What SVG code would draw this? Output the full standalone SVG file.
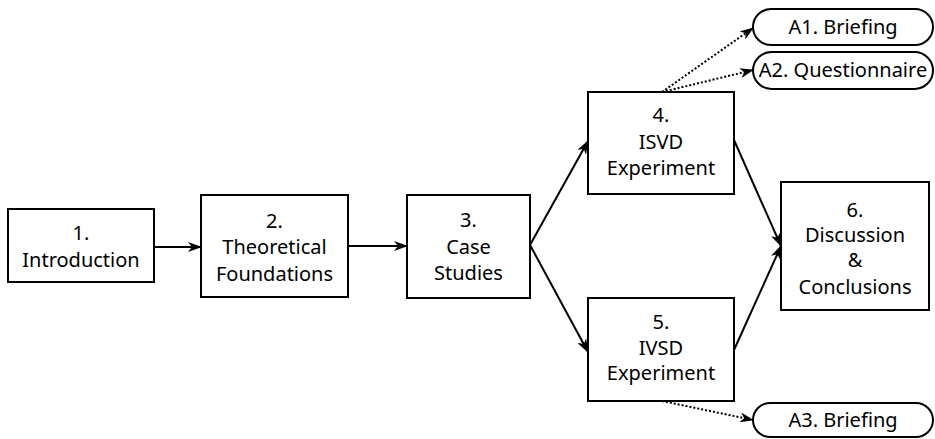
<svg xmlns="http://www.w3.org/2000/svg" width="935" height="439" viewBox="0 0 935 439">
  <style>
    .box { fill: #fff; stroke: #000; stroke-width: 2; }
    .pill { fill: #fff; stroke: #000; stroke-width: 2; }
    .lbl { font-family: "Noto Sans", "Open Sans", sans-serif; font-size: 20px; fill: #000; text-anchor: middle; }
    .edge { fill: none; stroke: #000; stroke-width: 2; }
    .dot { fill: none; stroke: #000; stroke-width: 2; stroke-dasharray: 2 2; }
  </style>
  <defs>
    <marker id="arrow" viewBox="0 0 14 10" refX="13" refY="5" markerWidth="14" markerHeight="10" markerUnits="userSpaceOnUse" orient="auto">
      <path d="M0,0 L14,5 L0,10 L4,5 Z" fill="#000"/>
    </marker>
  </defs>

  <g id="connectors">
    <line class="edge" x1="154" y1="247" x2="201" y2="247" marker-end="url(#arrow)"/>
    <line class="edge" x1="348" y1="246" x2="407" y2="246" marker-end="url(#arrow)"/>
    <line class="edge" x1="530" y1="245" x2="588" y2="141" marker-end="url(#arrow)"/>
    <line class="edge" x1="530" y1="245" x2="588" y2="352" marker-end="url(#arrow)"/>
    <line class="edge" x1="734" y1="140" x2="781" y2="246" marker-end="url(#arrow)"/>
    <line class="edge" x1="734" y1="350" x2="781" y2="246" marker-end="url(#arrow)"/>
    <line class="dot" x1="662" y1="92" x2="753" y2="28" marker-end="url(#arrow)"/>
    <line class="dot" x1="662" y1="92" x2="753" y2="70" marker-end="url(#arrow)"/>
    <line class="dot" x1="662" y1="401" x2="753" y2="420" marker-end="url(#arrow)"/>
  </g>

  <g id="n1">
    <rect class="box" x="8" y="209" width="146" height="73"/>
    <text class="lbl" x="81" y="240">1.</text>
    <text class="lbl" x="81" y="267">Introduction</text>
  </g>
  <g id="n2">
    <rect class="box" x="201" y="195" width="147" height="102"/>
    <text class="lbl" x="274.5" y="228">2.</text>
    <text class="lbl" x="274.5" y="254">Theoretical</text>
    <text class="lbl" x="274.5" y="281">Foundations</text>
  </g>
  <g id="n3">
    <rect class="box" x="407" y="195" width="123" height="103"/>
    <text class="lbl" x="468.5" y="227">3.</text>
    <text class="lbl" x="468.5" y="254">Case</text>
    <text class="lbl" x="468.5" y="280">Studies</text>
  </g>
  <g id="n4">
    <rect class="box" x="588" y="92" width="146" height="102"/>
    <text class="lbl" x="661" y="122">4.</text>
    <text class="lbl" x="661" y="149">ISVD</text>
    <text class="lbl" x="661" y="175">Experiment</text>
  </g>
  <g id="n5">
    <rect class="box" x="588" y="298" width="146" height="103"/>
    <text class="lbl" x="661" y="329">5.</text>
    <text class="lbl" x="661" y="355">IVSD</text>
    <text class="lbl" x="661" y="380">Experiment</text>
  </g>
  <g id="n6">
    <rect class="box" x="781" y="182" width="148" height="128"/>
    <text class="lbl" x="855" y="217">6.</text>
    <text class="lbl" x="855" y="242">Discussion</text>
    <text class="lbl" x="855" y="267">&amp;</text>
    <text class="lbl" x="855" y="294">Conclusions</text>
  </g>
  <g id="a1">
    <rect class="pill" x="753" y="9" width="180" height="36" rx="18"/>
    <text class="lbl" x="843" y="34">A1. Briefing</text>
  </g>
  <g id="a2">
    <rect class="pill" x="753" y="52" width="180" height="37" rx="18.5"/>
    <text class="lbl" x="843" y="77">A2. Questionnaire</text>
  </g>
  <g id="a3">
    <rect class="pill" x="753" y="403" width="180" height="34" rx="17"/>
    <text class="lbl" x="843" y="427">A3. Briefing</text>
  </g>
</svg>
